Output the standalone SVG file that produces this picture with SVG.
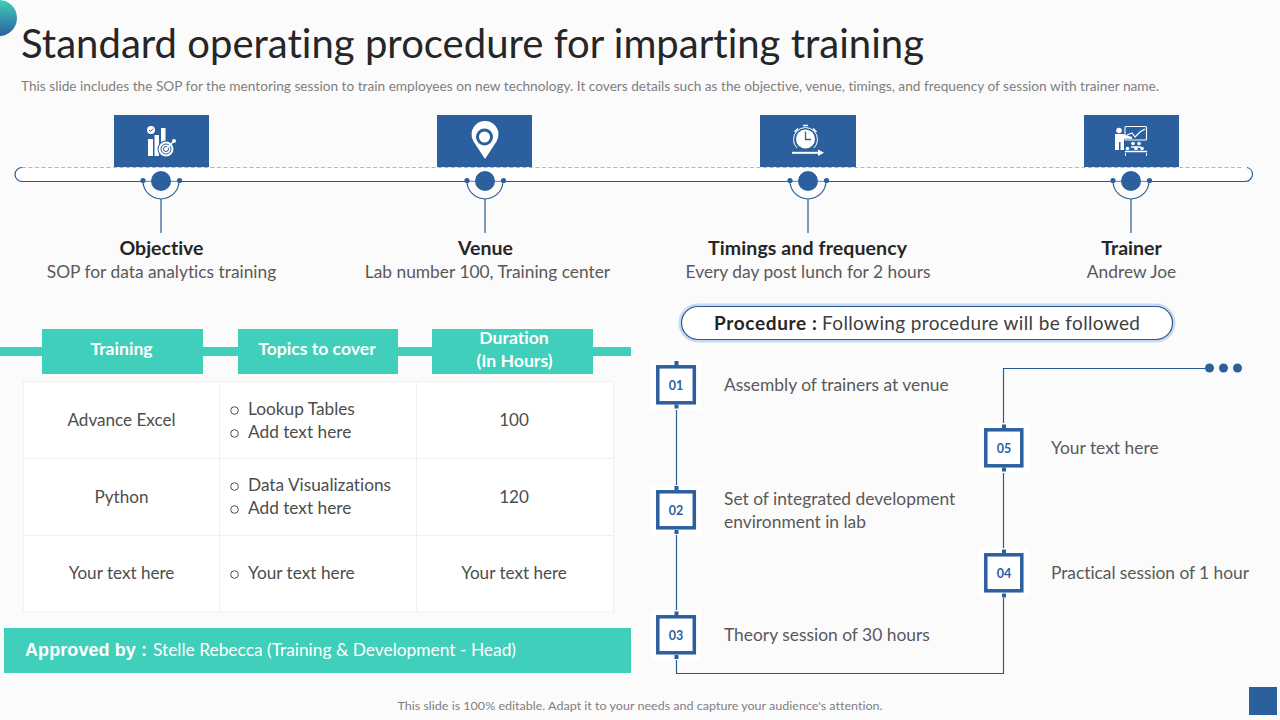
<svg xmlns="http://www.w3.org/2000/svg" width="1280" height="720" viewBox="0 0 1280 720">
<style>
text{font-family:"Lato","Liberation Sans",sans-serif;font-variant-ligatures:none}
.blue{fill:#2b5f9e}
.ln{fill:none;stroke:#2b5a8c;stroke-width:1.2}
.h{font-size:19.500px;font-weight:700;fill:#262626;text-anchor:middle}
.s{font-size:17.350px;fill:#595959;text-anchor:middle}
.c{font-size:17.100px;fill:#4d4d4d;text-anchor:middle}
.l{font-size:17.250px;fill:#4d4d4d}
.t{font-size:17.400px;fill:#595959}
.th{font-size:17.600px;font-weight:700;fill:#fff;text-anchor:middle}
.n{font-size:12.500px;font-weight:700;fill:#2b5f9e;text-anchor:middle}
.box{fill:#fff;stroke:#2b5f9e;stroke-width:3.500}
.bul{fill:none;stroke:#4d4d4d;stroke-width:1}
.w{fill:#fff}
.wl{fill:none;stroke:#fff}
</style>
<defs>
<linearGradient id="g" x1="0" y1="0" x2="0" y2="1"><stop offset="0" stop-color="#40cfba"/><stop offset="1" stop-color="#2b5f9e"/></linearGradient>
<g id="hub">
<line x1="-18" y1="0" x2="18" y2="0" stroke="#c5d3e4" stroke-width="1"/>
<path class="ln" d="M-18 0A18 18 0 0 0 18 0" style="stroke-width:1.100"/>
<line x1="0" y1="18" x2="0" y2="52" class="ln"/>
<circle r="10" class="blue"/>
<circle cx="-18" cy="-0.500" r="2.600" class="blue"/>
<circle cx="18.500" cy="-0.500" r="2.600" class="blue"/>
</g>
<g id="stub"><rect x="-2" y="-2" width="4" height="4" class="blue"/></g>
</defs>
<rect width="1280" height="720" fill="#fbfbfc"/>
<circle id="corner" cx="-1" cy="18" r="18" fill="url(#g)"/>
<text x="21" y="58" font-size="40" fill="#262626" textLength="903" lengthAdjust="spacingAndGlyphs">Standard operating procedure for imparting training</text>
<text x="21" y="91" font-size="13.500" fill="#7f7f7f" textLength="1138" lengthAdjust="spacingAndGlyphs">This slide includes the SOP for the mentoring session to train employees on new technology. It covers details such as the objective, venue, timings, and frequency of session with trainer name.</text>

<g id="timeline">
<path d="M22 167.500H1243A7 7 0 0 1 1253 175A7 7 0 0 1 1245 181.500H22A7 7 0 0 1 22 167.500Z" fill="#fff"/>
<path d="M22 167.500H1243" fill="none" stroke="#b5b5b5" stroke-width="1" stroke-dasharray="4 2.500"/>
<path class="ln" d="M22 167.500A7 7 0 0 0 22 181.500H1245A7.500 7.500 0 0 0 1252.500 174.500A7 7 0 0 0 1247 167.500"/>
</g>

<g id="node-objective">
<rect x="114" y="115" width="95" height="52" class="blue"/>
<use href="#hub" x="161" y="181"/>
<rect x="148" y="139" width="5" height="17" class="w"/><rect x="154.500" y="135" width="4.500" height="21" class="w"/><rect x="161" y="128" width="4.500" height="28" class="w"/>
<circle cx="151" cy="130" r="4" class="w"/>
<path d="M149 130L150.500 131.500L153 128.800" fill="none" stroke="#2b5f9e" stroke-width="1"/>
<circle cx="166" cy="149" r="8.500" class="blue"/>
<circle cx="166" cy="149" r="7.500" class="w"/><circle cx="166" cy="149" r="5" fill="none" stroke="#2b5f9e"/><circle cx="166" cy="149" r="2.500" fill="none" stroke="#2b5f9e"/>
<path d="M167 148L173 142" stroke="#fff" stroke-width="1.200"/><circle cx="174" cy="141" r="2" class="w"/>
<text x="161.500" y="255" class="h">Objective</text>
<text x="161.500" y="278" class="s">SOP for data analytics training</text>
</g>
<g id="node-venue">
<rect x="437" y="115" width="95" height="52" class="blue"/>
<use href="#hub" x="485" y="181"/>
<path d="M485 159L473.500 141.500A13.500 13.500 0 1 1 496.500 141.500Z" class="w"/>
<circle cx="484.500" cy="137" r="7" fill="none" stroke="#2b5f9e" stroke-width="3"/>
<text x="485.500" y="255" class="h">Venue</text>
<text x="487.500" y="278" class="s">Lab number 100, Training center</text>
</g>
<g id="node-timings">
<rect x="760" y="115" width="96" height="52" class="blue"/>
<use href="#hub" x="808" y="181"/>
<circle cx="805.500" cy="139" r="9.500" class="w"/>
<path d="M805.500 131.500V139.500H811" fill="none" stroke="#2b5f9e" stroke-width="1.300"/>
<path d="M797 148A12 12 0 1 1 814 148" fill="none" stroke="#fff" stroke-width="1"/>
<path d="M798 128.500L794.500 132M813 128.500L816.500 132M803 125.500H808" stroke="#fff" stroke-width="1.500"/>
<path d="M792 152.800H820" stroke="#fff" stroke-width="2"/><path d="M818 149.500L824 152.800L818 156Z" class="w"/>
<text x="807.500" y="255" class="h" textLength="199">Timings and frequency</text>
<text x="808" y="278" class="s">Every day post lunch for 2 hours</text>
</g>
<g id="node-trainer">
<rect x="1084" y="115" width="95" height="52" class="blue"/>
<use href="#hub" x="1131" y="181"/>
<circle cx="1119" cy="130.500" r="2.800" class="w"/>
<path d="M1115 134H1123L1132 137V139L1124 138.500V150H1120.500V142H1119V150H1115Z" class="w"/>
<rect x="1125" y="126.500" width="21.500" height="13.500" rx="1" class="wl" stroke-width="1.100"/>
<path d="M1127 135L1132 133L1135 137L1140 132L1145 129" class="wl" stroke-width="1.200"/>
<circle cx="1133" cy="143.500" r="1.800" class="w"/><circle cx="1139" cy="143.500" r="1.800" class="w"/>
<circle cx="1127.500" cy="148.500" r="1.800" class="w"/><circle cx="1136" cy="148.500" r="1.800" class="w"/><circle cx="1142" cy="148.500" r="1.800" class="w"/>
<path d="M1131 147H1141M1125 151.500H1147" class="wl" stroke-width="1.500"/>
<path d="M1125.500 156V153M1146.500 156V153" class="wl" stroke-width="1"/>
<text x="1131.500" y="255" class="h">Trainer</text>
<text x="1131.500" y="278" class="s">Andrew Joe</text>
</g>

<g id="table-header">
<rect x="0" y="347" width="631" height="9" fill="#40cfba"/>
<rect x="42" y="329" width="161" height="45" fill="#40cfba"/>
<rect x="238" y="329" width="160" height="45" fill="#40cfba"/>
<rect x="432" y="329" width="161" height="45" fill="#40cfba"/>
<text x="121.500" y="355" class="th">Training</text>
<text x="317" y="355" class="th">Topics to cover</text>
<text x="514" y="344" class="th">Duration</text>
<text x="514.500" y="367" class="th">(In Hours)</text>
</g>
<g id="table">
<rect x="23.500" y="381.500" width="590" height="230.500" fill="#fff" stroke="#eef0f2"/>
<path d="M219.500 382V612M416.500 382V612M24 458.500H613M24 535.500H613" stroke="#eef0f2" fill="none"/>
<text x="121.500" y="426" class="c">Advance Excel</text>
<text x="121.500" y="503" class="c">Python</text>
<text x="121.500" y="579" class="c">Your text here</text>
<circle cx="234.500" cy="410.500" r="3.800" class="bul"/><text x="248" y="415" class="l">Lookup Tables</text>
<circle cx="234.500" cy="433.500" r="3.800" class="bul"/><text x="248" y="438" class="l">Add text here</text>
<circle cx="234.500" cy="486.500" r="3.800" class="bul"/><text x="248" y="491" class="l">Data Visualizations</text>
<circle cx="234.500" cy="509.500" r="3.800" class="bul"/><text x="248" y="514" class="l">Add text here</text>
<circle cx="234.500" cy="574.500" r="3.800" class="bul"/><text x="248" y="579" class="l">Your text here</text>
<text x="514" y="426" class="c">100</text>
<text x="514" y="503" class="c">120</text>
<text x="514" y="579" class="c">Your text here</text>
</g>
<g id="approved">
<rect x="4" y="628" width="627" height="45" fill="#40cfba"/>
<text x="25" y="656" font-size="18" fill="#fff" font-weight="700" style="font-family:'Liberation Sans',sans-serif" textLength="122">Approved by :</text>
<text x="153" y="656" font-size="17.500" fill="#fff" textLength="363" lengthAdjust="spacingAndGlyphs">Stelle Rebecca (Training &amp; Development - Head)</text>
</g>

<g id="procedure">
<rect x="681" y="306" width="492" height="34" rx="17" fill="#fff" stroke="#c9d9ef" stroke-width="5"/>
<rect x="681.500" y="306.500" width="491" height="33" rx="16.500" fill="#fff" stroke="#2b5a8c" stroke-width="1.200"/>
<text x="714" y="330" font-size="19" font-weight="700" fill="#262626" textLength="103">Procedure  :</text>
<text x="822" y="330" font-size="19" fill="#404040" textLength="318">Following procedure  will be followed</text>
</g>

<g id="connectors">
<path class="ln" d="M676.500 408V486M676.500 534V611M676.500 659V673.500H1003.500V597M1003.500 549V472M1003.500 424V368.500H1205"/>
<g fill="#2b5f9e"><circle cx="1209.500" cy="368" r="4.500"/><circle cx="1223.500" cy="368" r="4.500"/><circle cx="1237.500" cy="368" r="4.500"/></g>
</g>

<g id="step-01"><rect x="651" y="360" width="50" height="50" fill="#fff"/><rect x="657.800" y="366.800" width="36.500" height="36" class="box"/><use href="#stub" x="676.500" y="363"/><use href="#stub" x="676.500" y="406.500"/><text x="676" y="390" class="n">01</text><text x="724" y="391" class="t">Assembly of trainers at venue</text></g>
<g id="step-02"><rect x="651" y="485" width="50" height="50" fill="#fff"/><rect x="657.800" y="491.800" width="36.500" height="36" class="box"/><use href="#stub" x="676.500" y="488"/><use href="#stub" x="676.500" y="532"/><text x="676" y="515" class="n">02</text><text x="724" y="505" class="t">Set of integrated development</text><text x="724" y="528" class="t">environment in lab</text></g>
<g id="step-03"><rect x="651" y="610" width="50" height="50" fill="#fff"/><rect x="657.800" y="616.800" width="36.500" height="36" class="box"/><use href="#stub" x="676.500" y="613.500"/><use href="#stub" x="676.500" y="657"/><text x="676" y="640" class="n">03</text><text x="724" y="641" class="t">Theory session of 30 hours</text></g>
<g id="step-04"><rect x="979" y="548" width="50" height="50" fill="#fff"/><rect x="985.800" y="554.800" width="36" height="36" class="box"/><use href="#stub" x="1004" y="551.500"/><use href="#stub" x="1004" y="595.500"/><text x="1004" y="578" class="n">04</text><text x="1051" y="579" class="t" textLength="198">Practical session of 1 hour</text></g>
<g id="step-05"><rect x="979" y="423" width="50" height="50" fill="#fff"/><rect x="985.800" y="429.800" width="36" height="36" class="box"/><use href="#stub" x="1004" y="426.500"/><use href="#stub" x="1004" y="469.500"/><text x="1004" y="453" class="n">05</text><text x="1051" y="454" class="t">Your text here</text></g>

<text x="640" y="710" font-size="11.500" fill="#7f7f7f" text-anchor="middle" textLength="485" lengthAdjust="spacingAndGlyphs">This slide is 100% editable. Adapt it to your needs and capture your audience's attention.</text>
<rect id="corner-square" x="1249" y="687" width="28" height="28" class="blue"/>
</svg>
